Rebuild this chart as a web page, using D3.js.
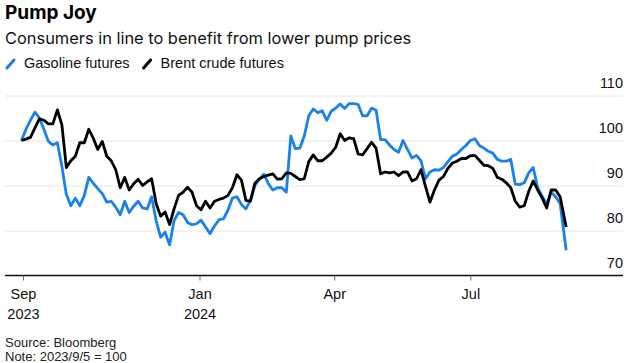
<!DOCTYPE html>
<html>
<head>
<meta charset="utf-8">
<script src="https://cdn.jsdelivr.net/npm/d3@7/dist/d3.min.js"></script>
<style>
  body { margin: 0; background: #fff; }
  svg { display: block; font-family: "Liberation Sans", Arial, Helvetica, sans-serif; }
</style>
</head>
<body>
<div id="chart"></div>
<script>
// every 3rd calendar day, 2023/9/5 .. 2024/9/3
const dates = [
  "2023-09-05","2023-09-08","2023-09-11","2023-09-14","2023-09-17","2023-09-20","2023-09-23","2023-09-26","2023-09-29",
  "2023-10-02","2023-10-05","2023-10-08","2023-10-11","2023-10-14","2023-10-17","2023-10-20","2023-10-23","2023-10-26","2023-10-29",
  "2023-11-01","2023-11-04","2023-11-07","2023-11-10","2023-11-13","2023-11-16","2023-11-19","2023-11-22","2023-11-25","2023-11-28",
  "2023-12-01","2023-12-04","2023-12-07","2023-12-10","2023-12-13","2023-12-16","2023-12-19","2023-12-22","2023-12-25","2023-12-28","2023-12-31",
  "2024-01-03","2024-01-06","2024-01-09","2024-01-12","2024-01-15","2024-01-18","2024-01-21","2024-01-24","2024-01-27","2024-01-30",
  "2024-02-02","2024-02-05","2024-02-08","2024-02-11","2024-02-14","2024-02-17","2024-02-20","2024-02-23","2024-02-26","2024-02-29",
  "2024-03-03","2024-03-06","2024-03-09","2024-03-12","2024-03-15","2024-03-18","2024-03-21","2024-03-24","2024-03-27","2024-03-30",
  "2024-04-02","2024-04-05","2024-04-08","2024-04-11","2024-04-14","2024-04-17","2024-04-20","2024-04-23","2024-04-26","2024-04-29",
  "2024-05-02","2024-05-05","2024-05-08","2024-05-11","2024-05-14","2024-05-17","2024-05-20","2024-05-23","2024-05-26","2024-05-29",
  "2024-06-01","2024-06-04","2024-06-07","2024-06-10","2024-06-13","2024-06-16","2024-06-19","2024-06-22","2024-06-25","2024-06-28",
  "2024-07-01","2024-07-04","2024-07-07","2024-07-10","2024-07-13","2024-07-16","2024-07-19","2024-07-22","2024-07-25","2024-07-28","2024-07-31",
  "2024-08-03","2024-08-06","2024-08-09","2024-08-12","2024-08-15","2024-08-18","2024-08-21","2024-08-24","2024-08-27","2024-08-30",
  "2024-09-03"
];

const gasoline = [
  100, 102.5, 104.5, 106.3, 105, 102.5, 99.8, 99, 99.5,
  94.3, 88, 85.5, 87.2, 85.5, 87.8, 91.8, 90.5, 89.3, 88.2,
  86.3, 86.5, 85.2, 83.5, 86.5, 84, 85.4, 86.5, 85, 84.8,
  87.5, 82.2, 78.5, 79.6, 76.8, 82.2, 84, 83.5, 81.8, 81.3, 81.5,
  82.3, 80.8, 79.3, 81, 82.4, 82.6, 84.5, 87.2, 87.5, 85.8,
  84.8, 86.7, 90, 91.4, 92.5, 90.4, 89, 89.5, 89.5, 88.5,
  101, 98.2, 98.3, 101, 105.5, 107, 106.2, 106.6, 104.5, 106.5,
  107.2, 108.1, 107.1, 108.2, 108.2, 108, 105.5, 105.5, 107.2, 106.7,
  100.2, 100.2, 99, 98, 97.4, 100, 98, 96.1, 96.7, 95.5,
  91.5, 93, 93.5, 93.4, 94, 95.3, 96.5, 97, 98, 98.9,
  100, 100.4, 98.9, 98.3, 97.6, 97.2, 95.8, 95.4, 95.4, 95.8, 90.3,
  90.2, 90.6, 92.8, 94, 89.5, 87.6, 85.9, 88.5, 87.5, 86,
  75.6
];

const brent = [
  100, 100.3, 100.7, 102.8, 104.8, 104.5, 103.7, 103.7, 106.8,
  103.5, 94, 95.5, 96.5, 99.5, 99.5, 102.5, 100.5, 98, 99.8,
  96.5, 95.5, 93.5, 89.5, 91.8, 89, 90.4, 91.4, 90, 90.8,
  91.5, 86, 83.2, 84.1, 81.3, 84.8, 87.8, 88.5, 89.6, 88.5, 85.5,
  84.6, 86.5, 85, 86.5, 86.9, 87.2, 87.8, 89.5, 92.4, 91.2,
  86.7, 86.5, 90.5, 91.5, 92, 92.3, 92.6, 91.4, 91.5, 92.8,
  92.7, 92, 91.3, 91.5, 95.3, 96.8, 95.5, 95.5, 96.3, 97.2,
  98.5, 101.5, 100, 100.6, 100.4, 97, 96.8, 98.2, 99.6, 98.3,
  92.6, 93, 92.8, 93, 92.2, 93, 93, 91, 91.5, 93.5,
  89.8, 86.3, 89, 91.2, 92, 93.8, 95, 95.4, 96, 96,
  96.6, 96.7, 95.6, 94.5, 94.4, 93.8, 91.8, 91.4, 90.6, 89.5, 86.5,
  85.2, 85.5, 88.7, 91, 89, 87.2, 85, 89, 89, 87.5,
  80.8
];

const yTicks = [70, 80, 90, 100, 110];
const xTickDates = ["2023-09-06", "2024-01-02", "2024-04-01", "2024-07-01"];
const xTickLabels = [["Sep", "2023"], ["Jan", "2024"], ["Apr", ""], ["Jul", ""]];

const seriesNames = ["Gasoline futures", "Brent crude futures"];
const seriesColors = ["#1a7ff0", "#000000"];

const width = 636, height = 363;
const parse = d3.timeParse("%Y-%m-%d");

const svg = d3.select("#chart").append("svg")
  .attr("width", width)
  .attr("height", height)
  .style("background", "#fff");

const x = d3.scaleTime()
  .domain([new Date(2023, 7, 25), new Date(2024, 9, 11)])
  .range([5, 623]);

const y = d3.scaleLinear()
  .domain([70, 110])
  .range([275.5, 95.5]);

// title block
svg.append("text")
  .attr("x", 5).attr("y", 18.5)
  .style("font-family", "Inter, 'Liberation Sans', sans-serif")
  .style("font-size", "19px").style("font-weight", "700").attr("fill", "#000")
  .text("Pump Joy");

svg.append("text")
  .attr("x", 5).attr("y", 43.5)
  .style("font-family", "Inter, 'Liberation Sans', sans-serif")
  .style("font-size", "16.4px").attr("fill", "#111")
  .text("Consumers in line to benefit from lower pump prices");

// legend
let lx = 5;
seriesNames.forEach((name, i) => {
  const g = svg.append("g").attr("transform", `translate(${lx},0)`);
  g.append("line")
    .attr("x1", 2).attr("y1", 68).attr("x2", 9).attr("y2", 60)
    .attr("stroke", seriesColors[i]).attr("stroke-width", 3).attr("stroke-linecap", "round");
  const t = g.append("text")
    .attr("x", 19).attr("y", 68.3)
    .style("font-size", "14.5px").attr("fill", "#111")
    .text(name);
  lx += 19 + t.node().getComputedTextLength() + 12;
});

// y grid + labels
const yAxis = svg.append("g")
  .attr("transform", "translate(623,0)")
  .call(d3.axisLeft(y).tickValues(yTicks).tickSize(618).tickFormat(d3.format("d")));
yAxis.select(".domain").remove();
yAxis.selectAll(".tick line")
  .attr("stroke", d => d === 70 ? "none" : "#e6e6e6")
  .attr("stroke-width", 1);
yAxis.selectAll(".tick text")
  .attr("x", 0).attr("dy", 0).attr("y", -8.5)
  .attr("text-anchor", "end")
  .style("font-size", "14.5px").style("font-family", "'Liberation Sans', Arial, sans-serif")
  .attr("fill", "#111");

// x axis
const xAxis = svg.append("g")
  .attr("transform", `translate(0,${y(70)})`)
  .call(d3.axisBottom(x).tickValues(xTickDates.map(parse)).tickSize(5).tickFormat(""));
xAxis.select(".domain")
  .attr("d", `M5,0H623`).attr("stroke", "#111").attr("stroke-width", 1.3);
xAxis.selectAll(".tick line").attr("stroke", "#666").attr("stroke-width", 1);
xAxis.selectAll(".tick").each(function(d, i) {
  const t = d3.select(this).append("text")
    .attr("text-anchor", "middle")
    .attr("fill", "#111")
    .style("font-size", "14.5px")
    .style("font-family", "'Liberation Sans', Arial, sans-serif");
  t.append("tspan").attr("x", 0).attr("y", 23.5).text(xTickLabels[i][0]);
  if (xTickLabels[i][1]) t.append("tspan").attr("x", 0).attr("y", 43).text(xTickLabels[i][1]);
});

// lines
const line = d3.line()
  .x(d => x(d[0]))
  .y(d => y(d[1]));

[gasoline, brent].forEach((vals, i) => {
  svg.append("path")
    .datum(dates.map((d, j) => [parse(d), vals[j]]))
    .attr("fill", "none")
    .attr("stroke", seriesColors[i])
    .attr("stroke-width", 2.8)
    .attr("stroke-linejoin", "round")
    .attr("d", line);
});

// footer
svg.append("text")
  .attr("x", 5).attr("y", 346.5)
  .style("font-size", "13px").attr("fill", "#222")
  .text("Source: Bloomberg");
svg.append("text")
  .attr("x", 5).attr("y", 360.5)
  .style("font-size", "13px").attr("fill", "#222")
  .text("Note: 2023/9/5 = 100");
</script>
</body>
</html>
